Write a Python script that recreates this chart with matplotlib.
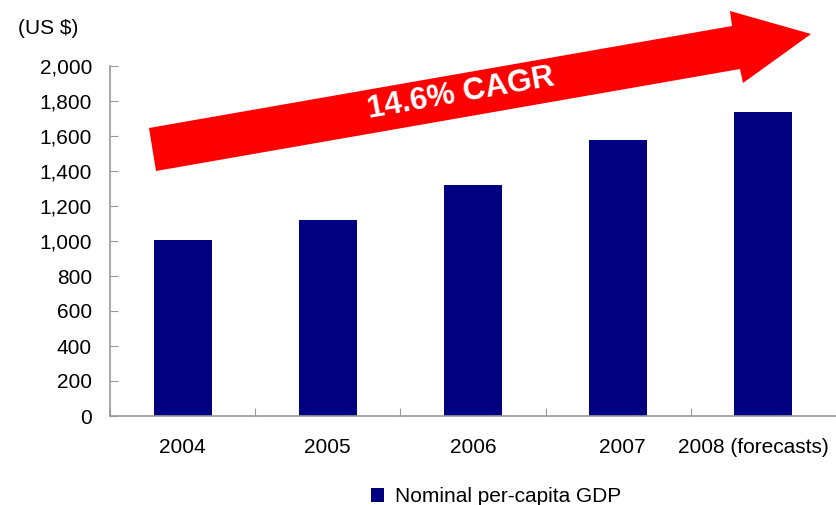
import matplotlib
matplotlib.use("Agg")
import matplotlib.pyplot as plt
from matplotlib.patches import Polygon, Patch
from matplotlib.ticker import FuncFormatter
from matplotlib.transforms import ScaledTranslation

categories = ["2004", "2005", "2006", "2007", "2008 (forecasts)"]
gdp_values = [1006, 1119, 1318, 1580, 1739]
series_name = "Nominal per-capita GDP"
cagr_label = "14.6% CAGR"
unit_label = "(US $)"

W, H = 836, 505
plt.rcParams['font.family'] = ['Liberation Sans', 'DejaVu Sans']
fig = plt.figure(figsize=(W / 100, H / 100), dpi=100)

def fx(x):
    return x / W

def fy(y):
    return 1 - y / H

ax = fig.add_axes([fx(110), fy(416), fx(836) - fx(110), fy(66) - fy(416)])
xs = list(range(len(categories)))
ax.bar(xs, gdp_values, width=0.4, color="#000080")
ax.set_xlim(-0.5, 4.5)
ax.set_ylim(0, 2000)
ax.set_yticks(range(0, 2001, 200))
ax.yaxis.set_major_formatter(FuncFormatter(lambda v, p: f"{int(v):,}"))
ax.set_xticks([i + 0.5 for i in range(-1, 5)], minor=False)
ax.set_xticklabels([])
ax.set_xticks(xs, minor=True)
ax.set_xticklabels(categories, minor=True, fontsize=15)
ax.tick_params(axis='x', which='minor', length=0, pad=16)
ax.tick_params(axis='x', which='major', direction='in', length=6, color='#999999')
ax.tick_params(axis='y', direction='in', length=6, color='#999999', labelsize=15, pad=13)
for s in ['top', 'right']:
    ax.spines[s].set_visible(False)
for s in ['left', 'bottom']:
    ax.spines[s].set_color('#999999')
    ax.spines[s].set_linewidth(1.2)

# nudge the last labels (reference keeps the long label inside the figure)
minor_labels = ax.get_xticklabels(minor=True)
offsets_px = [0, 0, 0, 4, -10]
for lab, off in zip(minor_labels, offsets_px):
    if off:
        lab.set_transform(lab.get_transform() + ScaledTranslation(off / 100, 0, fig.dpi_scale_trans))

fig.text(fx(18), fy(29), unit_label, fontsize=15, va='center', ha='left')

# CAGR arrow (annotation)
pts = [(149, 128), (732, 26), (730, 11), (811, 34), (743, 83), (740, 69), (156, 171)]
arrow = Polygon([(fx(x), fy(y)) for x, y in pts], closed=True, transform=fig.transFigure,
                facecolor='#FF0000', edgecolor='none')
fig.patches.append(arrow)
fig.text(fx(461), fy(94), cagr_label, fontsize=22.5, fontweight='bold', color='white',
         rotation=10, ha='center', va='center', rotation_mode='anchor')

handle = Patch(facecolor="#000080", edgecolor='none')
fig.legend([handle], [series_name], loc='center', bbox_to_anchor=(fx(496), fy(497)),
           frameon=False, fontsize=15, handlelength=0.65, handleheight=0.65, handletextpad=0.5)

fig.savefig("out.png", dpi=100)
